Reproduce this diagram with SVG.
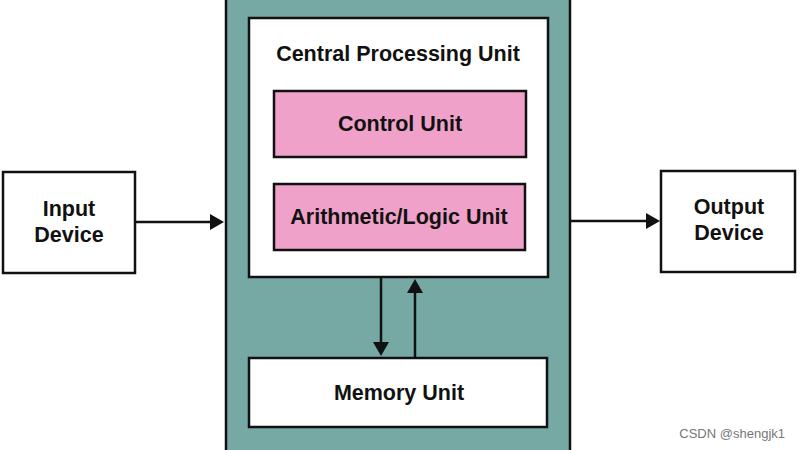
<svg xmlns="http://www.w3.org/2000/svg" width="800" height="450" viewBox="0 0 800 450">
<style>
.box{stroke:#111;stroke-width:2.5}
.w{fill:#fff}
.pink{fill:#efa1c9}
.lbl{font-family:"Liberation Sans",Arial,sans-serif;font-weight:bold;font-size:21.5px;fill:#111;text-anchor:middle}
.conn line{stroke:#111;stroke-width:2.5}
</style>
<defs>
<marker id="ah" viewBox="0 0 14 16" refX="10" refY="8" markerWidth="14" markerHeight="16" markerUnits="userSpaceOnUse" orient="auto">
<path d="M0,0 L14,8 L0,16 Z" fill="#111"/>
</marker>
</defs>
<rect width="800" height="450" fill="#fff"/>
<g id="system">
<rect class="box" x="226" y="-5" width="344" height="465" fill="#76a9a3"/>
</g>
<g id="cpu">
<rect class="box w" x="249" y="18" width="299" height="259"/>
<text class="lbl" x="398" y="61">Central Processing Unit</text>
</g>
<g id="control">
<rect class="box pink" x="274" y="91" width="252" height="66"/>
<text class="lbl" x="400" y="131">Control Unit</text>
</g>
<g id="alu">
<rect class="box pink" x="274" y="184" width="251" height="66"/>
<text class="lbl" x="399" y="224">Arithmetic/Logic Unit</text>
</g>
<g id="memory">
<rect class="box w" x="249" y="358" width="298" height="69"/>
<text class="lbl" x="399" y="400">Memory Unit</text>
</g>
<g id="input">
<rect class="box w" x="3" y="172" width="132" height="101"/>
<text class="lbl" x="69" y="216">Input</text>
<text class="lbl" x="69" y="242">Device</text>
</g>
<g id="output">
<rect class="box w" x="661" y="171" width="134" height="101"/>
<text class="lbl" x="729" y="214">Output</text>
<text class="lbl" x="729" y="240">Device</text>
</g>
<g id="connectors">
<g class="conn">
<line x1="135" y1="222" x2="220" y2="222" marker-end="url(#ah)"/>
<line x1="570" y1="221" x2="656" y2="221" marker-end="url(#ah)"/>
<line x1="381" y1="277" x2="381" y2="352" marker-end="url(#ah)"/>
<line x1="415" y1="357" x2="415" y2="283" marker-end="url(#ah)"/>
</g>
</g>
<text x="785" y="438" text-anchor="end" font-family="'Liberation Sans',Arial,sans-serif" font-size="13" fill="#777">CSDN @shengjk1</text>
</svg>
